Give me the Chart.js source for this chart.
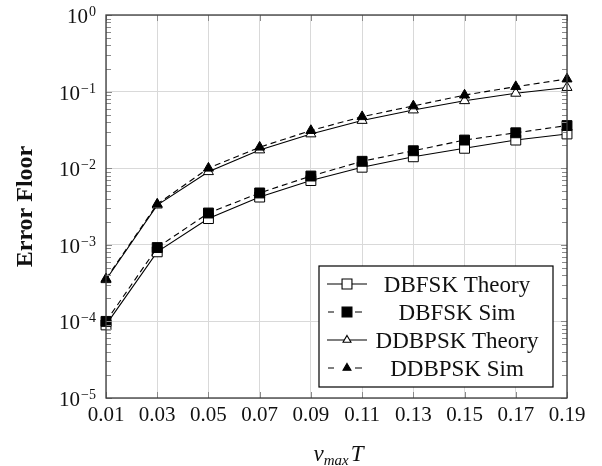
<!DOCTYPE html>
<html>
<head>
<meta charset="utf-8">
<script src="https://cdn.jsdelivr.net/npm/chart.js@4.4.1/dist/chart.umd.min.js"></script>
<style>
  html, body { margin: 0; padding: 0; background: #fff; }
  canvas { display: block; }
</style>
</head>
<body>
<canvas id="floorChart" width="602" height="466"></canvas>
<script>
// v_max * T sample points
const xVals = [0.01, 0.03, 0.05, 0.07, 0.09, 0.11, 0.13, 0.15, 0.17, 0.19];

// error floor values
const dbfskTheory  = [9.0e-5, 8.1e-4, 2.2e-3, 4.2e-3, 6.9e-3, 1.03e-2, 1.41e-2, 1.82e-2, 2.33e-2, 2.8e-2];
const dbfskSim     = [1.0e-4, 9.2e-4, 2.6e-3, 4.75e-3, 7.9e-3, 1.23e-2, 1.69e-2, 2.33e-2, 2.9e-2, 3.6e-2];
const ddbpskTheory = [3.5e-4, 3.3e-3, 9.0e-3, 1.73e-2, 2.8e-2, 4.2e-2, 5.75e-2, 7.6e-2, 9.5e-2, 1.13e-1];
const ddbpskSim    = [3.6e-4, 3.4e-3, 1.0e-2, 1.88e-2, 3.1e-2, 4.7e-2, 6.5e-2, 9.0e-2, 1.16e-1, 1.46e-1];

// axis ticks
const xTicks = [0.01, 0.03, 0.05, 0.07, 0.09, 0.11, 0.13, 0.15, 0.17, 0.19];
const yTicks = [1e-5, 1e-4, 1e-3, 1e-2, 1e-1, 1e0];

const legendNames = ['DBFSK Theory', 'DBFSK Sim', 'DDBPSK Theory', 'DDBPSK Sim'];

const SERIF = '"Liberation Serif", "DejaVu Serif", serif';
const INK = '#111';

const toPoints = (ys) => xVals.map((x, i) => ({ x: x, y: ys[i] }));

function makeSet(label, ys, style, filled, dashed) {
    return {
        label: label,
        data: toPoints(ys),
        borderColor: '#000',
        borderWidth: 1.1,
        borderDash: dashed ? [6, 4] : [],
        pointStyle: style,
        pointRadius: style === 'rect' ? 7 : 5.8,
        pointBorderWidth: 1,
        pointBorderColor: '#000',
        pointBackgroundColor: filled ? '#000' : '#fff',
        tension: 0,
        clip: false,
        order: dashed ? 0 : 1   // sim markers sit on top of theory markers
    };
}

const datasets = [
    makeSet(legendNames[0], dbfskTheory, 'rect', false, false),
    makeSet(legendNames[1], dbfskSim, 'rect', true, true),
    makeSet(legendNames[2], ddbpskTheory, 'triangle', false, false),
    makeSet(legendNames[3], ddbpskSim, 'triangle', true, true)
];

// frame, inner ticks, labels, titles and the boxed legend
const decorations = {
    id: 'decorations',
    afterDatasetsDraw(chart) {
        const ctx = chart.ctx;
        const area = chart.chartArea;
        const xs = chart.scales.x;
        const ys = chart.scales.y;

        ctx.save();

        // inner tick marks
        ctx.strokeStyle = '#8a8a8a';
        ctx.lineWidth = 1;
        ctx.beginPath();
        xTicks.forEach(v => {
            const px = Math.round(xs.getPixelForValue(v)) + 0.5;
            ctx.moveTo(px, area.bottom); ctx.lineTo(px, area.bottom - 6);
            ctx.moveTo(px, area.top); ctx.lineTo(px, area.top + 6);
        });
        for (let e = -5; e <= 0; e++) {
            const py = Math.round(ys.getPixelForValue(Math.pow(10, e))) + 0.5;
            ctx.moveTo(area.left, py); ctx.lineTo(area.left + 6, py);
            ctx.moveTo(area.right, py); ctx.lineTo(area.right - 6, py);
            if (e === 0) continue;
            for (let m = 2; m <= 9; m++) {
                const my = Math.round(ys.getPixelForValue(m * Math.pow(10, e))) + 0.5;
                ctx.moveTo(area.left, my); ctx.lineTo(area.left + 5, my);
                ctx.moveTo(area.right, my); ctx.lineTo(area.right - 5, my);
            }
        }
        ctx.stroke();

        // plot frame
        ctx.strokeStyle = '#3a3a3a';
        ctx.lineWidth = 1.3;
        ctx.strokeRect(area.left, area.top, area.right - area.left, area.bottom - area.top);

        ctx.fillStyle = INK;

        // x tick labels
        ctx.font = '21px ' + SERIF;
        ctx.textAlign = 'center';
        ctx.textBaseline = 'alphabetic';
        xTicks.forEach(v => {
            ctx.fillText(v.toFixed(2), xs.getPixelForValue(v), area.bottom + 23);
        });

        // y tick labels as 10^n
        yTicks.forEach(v => {
            const py = ys.getPixelForValue(v);
            const ex = Math.round(Math.log10(v));
            const expText = ex < 0 ? '\u2212' + (-ex) : String(ex);
            ctx.font = '14px ' + SERIF;
            const ew = ctx.measureText(expText).width;
            const right = area.left - 10;
            ctx.textAlign = 'left';
            ctx.fillText(expText, right - ew, py + 1);
            ctx.font = '21px ' + SERIF;
            ctx.textAlign = 'right';
            ctx.fillText('10', right - ew - 1, py + 8);
        });

        // x axis title: v_max T
        const cx = (area.left + area.right) / 2 + 2;
        const base = 461;
        ctx.font = 'italic 23px ' + SERIF;
        const wv = ctx.measureText('v').width;
        const wT = ctx.measureText('T').width;
        ctx.font = 'italic 15px ' + SERIF;
        const wSub = ctx.measureText('max').width;
        let tx = cx - (wv + wSub + wT + 2) / 2;
        ctx.textAlign = 'left';
        ctx.font = 'italic 23px ' + SERIF;
        ctx.fillText('v', tx, base);
        tx += wv;
        ctx.font = 'italic 15px ' + SERIF;
        ctx.fillText('max', tx, base + 4);
        tx += wSub + 2;
        ctx.font = 'italic 23px ' + SERIF;
        ctx.fillText('T', tx, base);

        // y axis title
        ctx.save();
        ctx.translate(32, (area.top + area.bottom) / 2);
        ctx.rotate(-Math.PI / 2);
        ctx.font = 'bold 24px ' + SERIF;
        ctx.textAlign = 'center';
        ctx.fillText('Error Floor', 0, 0);
        ctx.restore();

        // legend box
        const box = { left: 319, top: 266, right: 553, bottom: 387 };
        ctx.fillStyle = '#fff';
        ctx.fillRect(box.left, box.top, box.right - box.left, box.bottom - box.top);
        ctx.strokeStyle = '#000';
        ctx.lineWidth = 1.2;
        ctx.strokeRect(box.left, box.top, box.right - box.left, box.bottom - box.top);

        const rowY = [284, 312, 340, 368];
        datasets.forEach((ds, i) => {
            const y = rowY[i];
            ctx.strokeStyle = '#000';
            ctx.lineWidth = 1.1;
            ctx.setLineDash([]);
            ctx.beginPath();
            if (ds.borderDash.length) {
                ctx.moveTo(328, y); ctx.lineTo(334, y);
                ctx.moveTo(355, y); ctx.lineTo(362, y);
            } else {
                ctx.moveTo(327, y); ctx.lineTo(367, y);
            }
            ctx.stroke();
            ctx.fillStyle = ds.pointBackgroundColor;
            Chart.helpers.drawPoint(ctx, {
                pointStyle: ds.pointStyle,
                radius: ds.pointStyle === 'rect' ? 7 : 4.6,
                borderWidth: 1,
                rotation: 0
            }, 347, y);
            ctx.fillStyle = INK;
            ctx.font = '23px ' + SERIF;
            ctx.textAlign = 'center';
            ctx.fillText(ds.label, 457, y + 8);
        });

        ctx.restore();
    }
};

new Chart(document.getElementById('floorChart'), {
    type: 'line',
    data: { datasets: datasets },
    options: {
        responsive: false,
        animation: false,
        layout: { padding: { left: 106, right: 35, top: 15, bottom: 68 } },
        scales: {
            x: {
                type: 'linear',
                min: 0.01,
                max: 0.19,
                afterBuildTicks: (axis) => { axis.ticks = xTicks.map(v => ({ value: v })); },
                grid: { color: '#d9d9d9', lineWidth: 1, drawTicks: false },
                border: { display: false },
                ticks: { display: false }
            },
            y: {
                type: 'logarithmic',
                min: 1e-5,
                max: 1,
                afterBuildTicks: (axis) => { axis.ticks = yTicks.map(v => ({ value: v })); },
                grid: { color: '#d9d9d9', lineWidth: 1, drawTicks: false },
                border: { display: false },
                ticks: { display: false }
            }
        },
        plugins: {
            legend: { display: false },
            tooltip: { enabled: false }
        }
    },
    plugins: [decorations]
});
</script>
</body>
</html>
